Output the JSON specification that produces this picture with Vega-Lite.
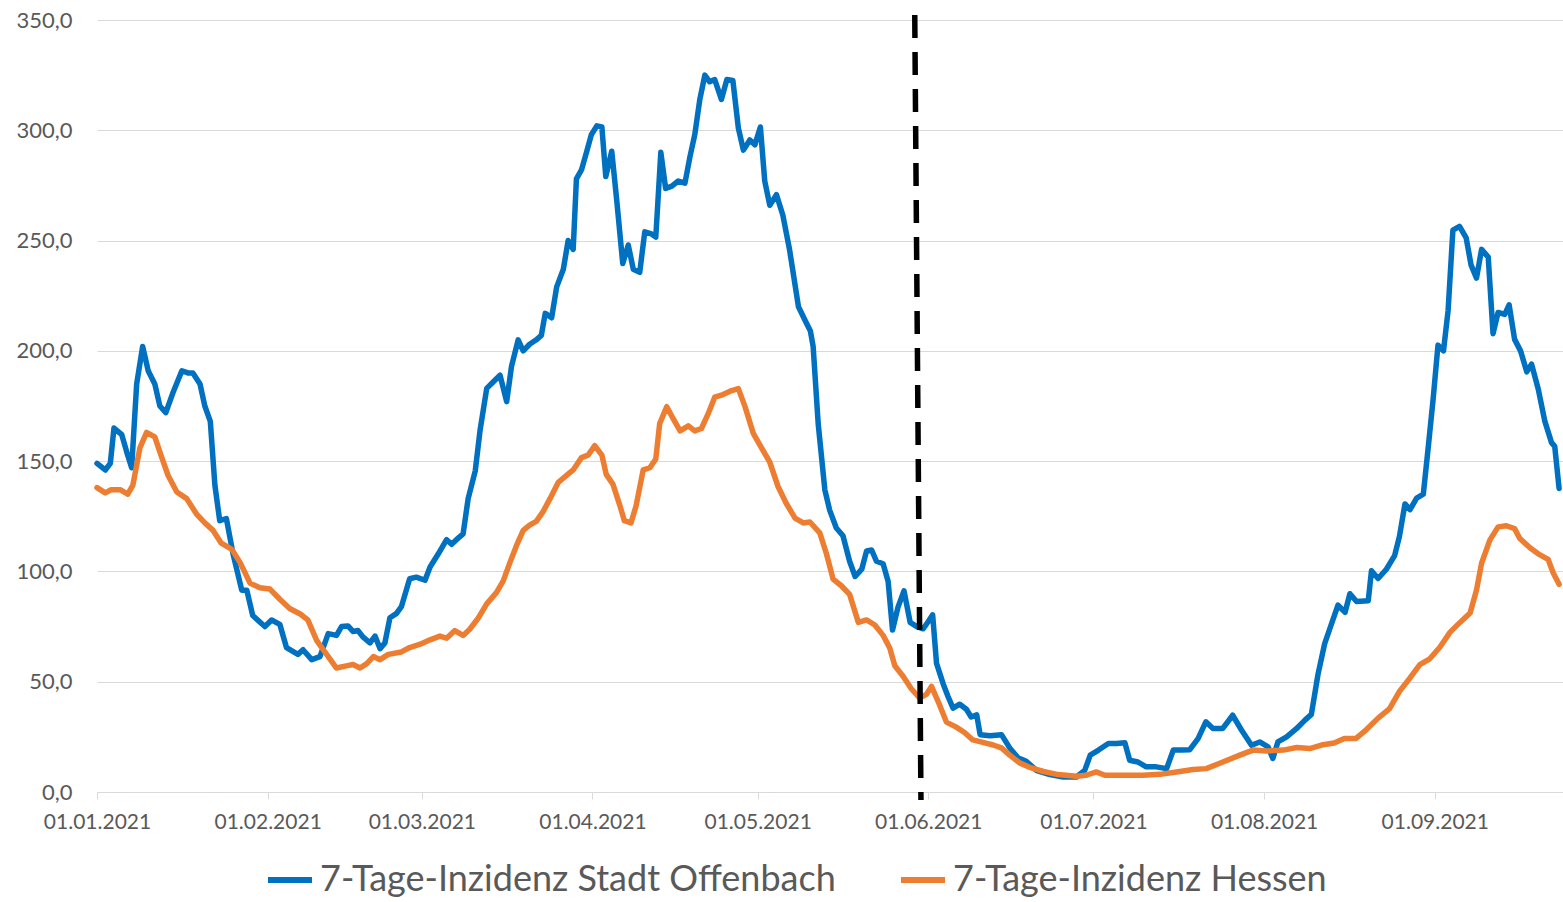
{
  "$schema": "https://vega.github.io/schema/vega-lite/v6.json",
  "width": 1466,
  "height": 772,
  "autosize": {"type": "none"},
  "padding": {"left": 97, "top": 20, "right": 0, "bottom": 110},
  "background": "white",
  "config": {
    "view": {"stroke": null},
    "font": "Lato"
  },
  "datasets": {
    "offenbach": [
      {"date": "2021-01-01T00:00", "value": 149},
      {"date": "2021-01-02T12:00", "value": 146},
      {"date": "2021-01-03T10:00", "value": 149},
      {"date": "2021-01-04T02:00", "value": 165},
      {"date": "2021-01-05T12:00", "value": 162},
      {"date": "2021-01-06T10:00", "value": 154},
      {"date": "2021-01-07T07:00", "value": 147},
      {"date": "2021-01-08T05:00", "value": 185},
      {"date": "2021-01-09T07:00", "value": 202},
      {"date": "2021-01-10T07:00", "value": 191},
      {"date": "2021-01-11T12:00", "value": 185},
      {"date": "2021-01-12T10:00", "value": 175},
      {"date": "2021-01-13T12:00", "value": 172},
      {"date": "2021-01-14T19:00", "value": 181},
      {"date": "2021-01-16T10:00", "value": 191},
      {"date": "2021-01-17T12:00", "value": 190},
      {"date": "2021-01-18T10:00", "value": 190},
      {"date": "2021-01-19T17:00", "value": 185},
      {"date": "2021-01-20T14:00", "value": 175},
      {"date": "2021-01-21T14:00", "value": 168},
      {"date": "2021-01-22T10:00", "value": 139},
      {"date": "2021-01-23T07:00", "value": 123},
      {"date": "2021-01-24T12:00", "value": 124},
      {"date": "2021-01-25T17:00", "value": 108},
      {"date": "2021-01-27T07:00", "value": 91.5},
      {"date": "2021-01-28T05:00", "value": 91.5},
      {"date": "2021-01-29T07:00", "value": 80},
      {"date": "2021-01-31T12:00", "value": 75},
      {"date": "2021-02-01T17:00", "value": 78},
      {"date": "2021-02-03T05:00", "value": 76},
      {"date": "2021-02-04T10:00", "value": 65.5},
      {"date": "2021-02-06T12:00", "value": 62.4},
      {"date": "2021-02-07T10:00", "value": 64.5},
      {"date": "2021-02-09T00:00", "value": 60},
      {"date": "2021-02-10T12:00", "value": 61.4},
      {"date": "2021-02-12T00:00", "value": 71.8},
      {"date": "2021-02-13T12:00", "value": 71},
      {"date": "2021-02-14T10:00", "value": 75},
      {"date": "2021-02-15T14:00", "value": 75.3},
      {"date": "2021-02-16T12:00", "value": 72.8},
      {"date": "2021-02-17T10:00", "value": 73.2},
      {"date": "2021-02-18T07:00", "value": 70.3},
      {"date": "2021-02-19T14:00", "value": 67.6},
      {"date": "2021-02-20T12:00", "value": 70.7},
      {"date": "2021-02-21T10:00", "value": 65},
      {"date": "2021-02-22T07:00", "value": 67.6},
      {"date": "2021-02-23T05:00", "value": 79},
      {"date": "2021-02-24T10:00", "value": 81},
      {"date": "2021-02-25T07:00", "value": 84},
      {"date": "2021-02-26T19:00", "value": 96.7},
      {"date": "2021-02-28T00:00", "value": 97.4},
      {"date": "2021-03-01T14:00", "value": 96},
      {"date": "2021-03-02T12:00", "value": 102},
      {"date": "2021-03-04T00:00", "value": 108},
      {"date": "2021-03-05T12:00", "value": 114.4},
      {"date": "2021-03-06T10:00", "value": 112.3},
      {"date": "2021-03-07T07:00", "value": 114.4},
      {"date": "2021-03-08T12:00", "value": 117},
      {"date": "2021-03-09T10:00", "value": 133},
      {"date": "2021-03-10T17:00", "value": 145.6},
      {"date": "2021-03-11T14:00", "value": 164},
      {"date": "2021-03-12T19:00", "value": 183},
      {"date": "2021-03-14T00:00", "value": 186},
      {"date": "2021-03-15T05:00", "value": 189},
      {"date": "2021-03-16T10:00", "value": 177},
      {"date": "2021-03-17T07:00", "value": 193},
      {"date": "2021-03-18T12:00", "value": 205},
      {"date": "2021-03-19T10:00", "value": 200},
      {"date": "2021-03-20T14:00", "value": 203},
      {"date": "2021-03-21T19:00", "value": 205},
      {"date": "2021-03-22T17:00", "value": 207},
      {"date": "2021-03-23T10:00", "value": 217},
      {"date": "2021-03-24T14:00", "value": 215},
      {"date": "2021-03-25T12:00", "value": 229},
      {"date": "2021-03-26T17:00", "value": 237},
      {"date": "2021-03-27T14:00", "value": 250},
      {"date": "2021-03-28T12:00", "value": 246},
      {"date": "2021-03-29T02:00", "value": 278},
      {"date": "2021-03-30T00:00", "value": 282},
      {"date": "2021-03-30T22:00", "value": 290},
      {"date": "2021-03-31T19:00", "value": 298},
      {"date": "2021-04-01T19:00", "value": 302},
      {"date": "2021-04-02T17:00", "value": 301.5},
      {"date": "2021-04-03T10:00", "value": 279},
      {"date": "2021-04-04T12:00", "value": 290.5},
      {"date": "2021-04-05T10:00", "value": 268},
      {"date": "2021-04-06T12:00", "value": 239.6},
      {"date": "2021-04-07T12:00", "value": 248},
      {"date": "2021-04-08T10:00", "value": 237},
      {"date": "2021-04-09T14:00", "value": 235.6},
      {"date": "2021-04-10T12:00", "value": 254},
      {"date": "2021-04-11T17:00", "value": 253},
      {"date": "2021-04-12T12:00", "value": 251.6},
      {"date": "2021-04-13T10:00", "value": 290},
      {"date": "2021-04-14T07:00", "value": 273.6},
      {"date": "2021-04-15T10:00", "value": 274.7},
      {"date": "2021-04-16T14:00", "value": 277},
      {"date": "2021-04-17T19:00", "value": 276},
      {"date": "2021-04-18T17:00", "value": 288},
      {"date": "2021-04-19T14:00", "value": 298},
      {"date": "2021-04-20T12:00", "value": 314},
      {"date": "2021-04-21T10:00", "value": 325},
      {"date": "2021-04-22T07:00", "value": 322},
      {"date": "2021-04-23T05:00", "value": 323},
      {"date": "2021-04-24T10:00", "value": 314},
      {"date": "2021-04-25T10:00", "value": 323},
      {"date": "2021-04-26T12:00", "value": 322.6},
      {"date": "2021-04-27T12:00", "value": 301},
      {"date": "2021-04-28T10:00", "value": 291},
      {"date": "2021-04-29T14:00", "value": 295.6},
      {"date": "2021-04-30T12:00", "value": 293.4},
      {"date": "2021-05-01T12:00", "value": 301.5},
      {"date": "2021-05-02T07:00", "value": 277},
      {"date": "2021-05-03T05:00", "value": 266},
      {"date": "2021-05-04T10:00", "value": 270.8},
      {"date": "2021-05-05T14:00", "value": 261.5},
      {"date": "2021-05-06T19:00", "value": 246},
      {"date": "2021-05-08T10:00", "value": 220},
      {"date": "2021-05-09T14:00", "value": 214},
      {"date": "2021-05-10T14:00", "value": 209},
      {"date": "2021-05-11T02:00", "value": 202},
      {"date": "2021-05-12T00:00", "value": 167},
      {"date": "2021-05-13T05:00", "value": 137},
      {"date": "2021-05-14T02:00", "value": 127.8},
      {"date": "2021-05-15T07:00", "value": 119.7},
      {"date": "2021-05-16T12:00", "value": 116.2},
      {"date": "2021-05-17T17:00", "value": 104.6},
      {"date": "2021-05-18T17:00", "value": 97.7},
      {"date": "2021-05-19T22:00", "value": 101},
      {"date": "2021-05-20T19:00", "value": 109.3},
      {"date": "2021-05-21T17:00", "value": 109.7},
      {"date": "2021-05-22T14:00", "value": 104.6},
      {"date": "2021-05-23T19:00", "value": 103.5},
      {"date": "2021-05-24T17:00", "value": 95.4},
      {"date": "2021-05-25T12:00", "value": 73.4},
      {"date": "2021-05-26T12:00", "value": 83.8},
      {"date": "2021-05-27T14:00", "value": 91.2},
      {"date": "2021-05-28T17:00", "value": 76.9},
      {"date": "2021-05-29T22:00", "value": 75},
      {"date": "2021-05-31T02:00", "value": 74},
      {"date": "2021-06-01T00:00", "value": 77.3},
      {"date": "2021-06-01T19:00", "value": 80.3},
      {"date": "2021-06-02T12:00", "value": 58.3},
      {"date": "2021-06-03T17:00", "value": 49},
      {"date": "2021-06-04T14:00", "value": 43.3},
      {"date": "2021-06-05T12:00", "value": 38},
      {"date": "2021-06-06T17:00", "value": 39.8},
      {"date": "2021-06-07T22:00", "value": 37.5},
      {"date": "2021-06-08T19:00", "value": 34},
      {"date": "2021-06-09T19:00", "value": 35},
      {"date": "2021-06-10T10:00", "value": 26},
      {"date": "2021-06-12T05:00", "value": 25.5},
      {"date": "2021-06-14T07:00", "value": 26},
      {"date": "2021-06-15T19:00", "value": 20},
      {"date": "2021-06-17T07:00", "value": 15.5},
      {"date": "2021-06-18T19:00", "value": 13.9},
      {"date": "2021-06-20T17:00", "value": 9.7},
      {"date": "2021-06-23T02:00", "value": 7.9},
      {"date": "2021-06-25T12:00", "value": 6.8},
      {"date": "2021-06-27T22:00", "value": 6.8},
      {"date": "2021-06-29T10:00", "value": 9.8},
      {"date": "2021-06-30T10:00", "value": 16.7},
      {"date": "2021-07-01T22:00", "value": 19},
      {"date": "2021-07-03T17:00", "value": 22},
      {"date": "2021-07-05T05:00", "value": 22},
      {"date": "2021-07-06T17:00", "value": 22.3},
      {"date": "2021-07-07T14:00", "value": 14.4},
      {"date": "2021-07-09T02:00", "value": 13.6},
      {"date": "2021-07-10T14:00", "value": 11.4},
      {"date": "2021-07-12T10:00", "value": 11.4},
      {"date": "2021-07-14T07:00", "value": 10.6},
      {"date": "2021-07-15T12:00", "value": 19},
      {"date": "2021-07-17T00:00", "value": 19},
      {"date": "2021-07-18T12:00", "value": 19.2},
      {"date": "2021-07-20T00:00", "value": 24.2},
      {"date": "2021-07-21T10:00", "value": 31.8},
      {"date": "2021-07-22T17:00", "value": 28.8},
      {"date": "2021-07-24T12:00", "value": 28.8},
      {"date": "2021-07-26T07:00", "value": 34.8},
      {"date": "2021-07-27T22:00", "value": 28},
      {"date": "2021-07-29T17:00", "value": 21.2},
      {"date": "2021-07-31T05:00", "value": 22.7},
      {"date": "2021-08-01T17:00", "value": 20.5},
      {"date": "2021-08-02T14:00", "value": 15.2},
      {"date": "2021-08-03T12:00", "value": 22.7},
      {"date": "2021-08-05T02:00", "value": 25},
      {"date": "2021-08-06T22:00", "value": 28.8},
      {"date": "2021-08-08T10:00", "value": 32.6},
      {"date": "2021-08-09T14:00", "value": 35.2},
      {"date": "2021-08-10T19:00", "value": 53.4},
      {"date": "2021-08-12T00:00", "value": 67.3},
      {"date": "2021-08-13T05:00", "value": 76},
      {"date": "2021-08-14T10:00", "value": 84.7},
      {"date": "2021-08-15T17:00", "value": 81.5},
      {"date": "2021-08-16T14:00", "value": 89.9},
      {"date": "2021-08-17T19:00", "value": 86.4},
      {"date": "2021-08-19T22:00", "value": 86.7},
      {"date": "2021-08-20T12:00", "value": 100.3},
      {"date": "2021-08-21T17:00", "value": 96.8},
      {"date": "2021-08-23T05:00", "value": 101},
      {"date": "2021-08-24T17:00", "value": 107.2},
      {"date": "2021-08-25T14:00", "value": 115.9},
      {"date": "2021-08-26T14:00", "value": 130.6},
      {"date": "2021-08-27T12:00", "value": 128},
      {"date": "2021-08-28T17:00", "value": 133.2},
      {"date": "2021-08-29T22:00", "value": 135},
      {"date": "2021-08-30T19:00", "value": 155.8},
      {"date": "2021-08-31T17:00", "value": 178.3},
      {"date": "2021-09-01T14:00", "value": 202.6},
      {"date": "2021-09-02T14:00", "value": 200},
      {"date": "2021-09-03T10:00", "value": 218.2},
      {"date": "2021-09-04T07:00", "value": 254.7},
      {"date": "2021-09-05T12:00", "value": 256.4},
      {"date": "2021-09-06T17:00", "value": 251.2},
      {"date": "2021-09-07T14:00", "value": 239},
      {"date": "2021-09-08T14:00", "value": 233},
      {"date": "2021-09-09T12:00", "value": 246},
      {"date": "2021-09-10T17:00", "value": 242.5},
      {"date": "2021-09-11T14:00", "value": 207.8},
      {"date": "2021-09-12T12:00", "value": 217.4},
      {"date": "2021-09-13T17:00", "value": 216.5},
      {"date": "2021-09-14T12:00", "value": 220.9},
      {"date": "2021-09-15T12:00", "value": 205.2},
      {"date": "2021-09-16T14:00", "value": 200},
      {"date": "2021-09-17T17:00", "value": 190.5},
      {"date": "2021-09-18T14:00", "value": 194},
      {"date": "2021-09-19T19:00", "value": 182.7},
      {"date": "2021-09-21T00:00", "value": 168},
      {"date": "2021-09-22T05:00", "value": 158.4},
      {"date": "2021-09-22T19:00", "value": 156.7},
      {"date": "2021-09-23T14:00", "value": 137.6}
    ],
    "hessen": [
      {"date": "2021-01-01T00:00", "value": 138},
      {"date": "2021-01-02T12:00", "value": 135.6},
      {"date": "2021-01-03T12:00", "value": 137},
      {"date": "2021-01-05T07:00", "value": 137},
      {"date": "2021-01-06T14:00", "value": 135},
      {"date": "2021-01-07T12:00", "value": 139},
      {"date": "2021-01-08T19:00", "value": 156},
      {"date": "2021-01-10T00:00", "value": 163},
      {"date": "2021-01-11T12:00", "value": 161},
      {"date": "2021-01-12T17:00", "value": 152},
      {"date": "2021-01-13T22:00", "value": 143.5},
      {"date": "2021-01-15T12:00", "value": 136},
      {"date": "2021-01-17T07:00", "value": 133},
      {"date": "2021-01-19T02:00", "value": 126},
      {"date": "2021-01-20T14:00", "value": 122},
      {"date": "2021-01-22T02:00", "value": 118.6},
      {"date": "2021-01-23T14:00", "value": 112.8},
      {"date": "2021-01-25T12:00", "value": 110},
      {"date": "2021-01-27T00:00", "value": 104},
      {"date": "2021-01-28T19:00", "value": 94.7},
      {"date": "2021-01-30T14:00", "value": 92.6},
      {"date": "2021-02-01T10:00", "value": 92},
      {"date": "2021-02-03T05:00", "value": 87.4},
      {"date": "2021-02-05T00:00", "value": 83.2},
      {"date": "2021-02-06T22:00", "value": 80.7},
      {"date": "2021-02-08T07:00", "value": 78},
      {"date": "2021-02-09T22:00", "value": 68.6},
      {"date": "2021-02-11T17:00", "value": 62.4},
      {"date": "2021-02-13T12:00", "value": 56.2},
      {"date": "2021-02-15T07:00", "value": 57.2},
      {"date": "2021-02-16T12:00", "value": 57.8},
      {"date": "2021-02-17T19:00", "value": 56.2},
      {"date": "2021-02-19T00:00", "value": 58.2},
      {"date": "2021-02-20T05:00", "value": 61.4},
      {"date": "2021-02-21T10:00", "value": 60},
      {"date": "2021-02-22T22:00", "value": 62.4},
      {"date": "2021-02-25T07:00", "value": 63.5},
      {"date": "2021-02-26T19:00", "value": 65.5},
      {"date": "2021-02-28T17:00", "value": 67},
      {"date": "2021-03-02T12:00", "value": 69},
      {"date": "2021-03-04T07:00", "value": 70.7},
      {"date": "2021-03-05T12:00", "value": 69.7},
      {"date": "2021-03-07T00:00", "value": 73.2},
      {"date": "2021-03-08T12:00", "value": 71},
      {"date": "2021-03-09T17:00", "value": 73.8},
      {"date": "2021-03-11T07:00", "value": 79},
      {"date": "2021-03-12T19:00", "value": 85.3},
      {"date": "2021-03-14T14:00", "value": 90.5},
      {"date": "2021-03-15T19:00", "value": 95.7},
      {"date": "2021-03-17T00:00", "value": 104},
      {"date": "2021-03-18T07:00", "value": 112.3},
      {"date": "2021-03-19T10:00", "value": 118.6},
      {"date": "2021-03-20T14:00", "value": 121},
      {"date": "2021-03-21T19:00", "value": 122.7},
      {"date": "2021-03-23T00:00", "value": 127},
      {"date": "2021-03-24T07:00", "value": 133},
      {"date": "2021-03-25T19:00", "value": 140.4},
      {"date": "2021-03-27T07:00", "value": 143.5},
      {"date": "2021-03-28T12:00", "value": 146},
      {"date": "2021-03-30T00:00", "value": 151.6},
      {"date": "2021-03-31T05:00", "value": 152.7},
      {"date": "2021-04-01T10:00", "value": 157},
      {"date": "2021-04-02T17:00", "value": 152.7},
      {"date": "2021-04-03T12:00", "value": 144},
      {"date": "2021-04-04T17:00", "value": 139.6},
      {"date": "2021-04-06T00:00", "value": 129.7},
      {"date": "2021-04-06T19:00", "value": 123},
      {"date": "2021-04-08T00:00", "value": 122},
      {"date": "2021-04-08T22:00", "value": 129.7},
      {"date": "2021-04-10T05:00", "value": 146},
      {"date": "2021-04-11T10:00", "value": 147},
      {"date": "2021-04-12T12:00", "value": 151},
      {"date": "2021-04-13T05:00", "value": 167},
      {"date": "2021-04-14T12:00", "value": 174.7},
      {"date": "2021-04-15T17:00", "value": 169},
      {"date": "2021-04-16T22:00", "value": 163.7},
      {"date": "2021-04-18T10:00", "value": 166},
      {"date": "2021-04-19T14:00", "value": 163.7},
      {"date": "2021-04-20T19:00", "value": 164.8},
      {"date": "2021-04-22T00:00", "value": 171.4},
      {"date": "2021-04-23T05:00", "value": 179},
      {"date": "2021-04-24T17:00", "value": 180.2},
      {"date": "2021-04-26T07:00", "value": 182},
      {"date": "2021-04-27T12:00", "value": 182.9},
      {"date": "2021-04-28T17:00", "value": 174.7},
      {"date": "2021-04-30T05:00", "value": 162.6},
      {"date": "2021-05-01T17:00", "value": 156},
      {"date": "2021-05-03T05:00", "value": 149.5},
      {"date": "2021-05-04T17:00", "value": 138.5},
      {"date": "2021-05-06T05:00", "value": 130.8},
      {"date": "2021-05-07T19:00", "value": 124.2},
      {"date": "2021-05-09T07:00", "value": 122},
      {"date": "2021-05-10T12:00", "value": 122.4},
      {"date": "2021-05-12T07:00", "value": 117.5},
      {"date": "2021-05-13T12:00", "value": 108},
      {"date": "2021-05-14T17:00", "value": 96.5},
      {"date": "2021-05-16T05:00", "value": 93.5},
      {"date": "2021-05-17T17:00", "value": 89.6},
      {"date": "2021-05-19T07:00", "value": 76.9},
      {"date": "2021-05-20T19:00", "value": 78},
      {"date": "2021-05-22T07:00", "value": 75.7},
      {"date": "2021-05-23T19:00", "value": 71},
      {"date": "2021-05-25T00:00", "value": 65.3},
      {"date": "2021-05-25T22:00", "value": 57.2},
      {"date": "2021-05-27T10:00", "value": 52.5},
      {"date": "2021-05-28T22:00", "value": 46.8},
      {"date": "2021-05-30T10:00", "value": 42.6},
      {"date": "2021-05-31T17:00", "value": 44.4},
      {"date": "2021-06-01T14:00", "value": 47.9},
      {"date": "2021-06-02T19:00", "value": 41},
      {"date": "2021-06-04T07:00", "value": 31.7},
      {"date": "2021-06-06T02:00", "value": 29.4},
      {"date": "2021-06-07T14:00", "value": 27},
      {"date": "2021-06-09T02:00", "value": 23.6},
      {"date": "2021-06-10T22:00", "value": 22.5},
      {"date": "2021-06-12T19:00", "value": 21.3},
      {"date": "2021-06-14T07:00", "value": 20},
      {"date": "2021-06-15T19:00", "value": 16.7},
      {"date": "2021-06-17T14:00", "value": 13.2},
      {"date": "2021-06-19T17:00", "value": 10.9},
      {"date": "2021-06-21T22:00", "value": 9.3},
      {"date": "2021-06-24T14:00", "value": 7.9},
      {"date": "2021-06-27T22:00", "value": 7.1},
      {"date": "2021-06-29T17:00", "value": 7.6},
      {"date": "2021-07-01T12:00", "value": 9.1},
      {"date": "2021-07-03T02:00", "value": 7.6},
      {"date": "2021-07-06T10:00", "value": 7.6},
      {"date": "2021-07-10T00:00", "value": 7.6},
      {"date": "2021-07-13T02:00", "value": 8},
      {"date": "2021-07-16T02:00", "value": 9.1},
      {"date": "2021-07-19T02:00", "value": 10.2},
      {"date": "2021-07-21T12:00", "value": 10.6},
      {"date": "2021-07-24T12:00", "value": 13.6},
      {"date": "2021-07-27T14:00", "value": 16.7},
      {"date": "2021-07-30T00:00", "value": 19},
      {"date": "2021-08-01T10:00", "value": 18.6},
      {"date": "2021-08-04T12:00", "value": 19},
      {"date": "2021-08-06T22:00", "value": 20.2},
      {"date": "2021-08-09T07:00", "value": 19.7},
      {"date": "2021-08-11T10:00", "value": 21.3},
      {"date": "2021-08-13T17:00", "value": 22.2},
      {"date": "2021-08-15T14:00", "value": 24.3},
      {"date": "2021-08-17T17:00", "value": 24.3},
      {"date": "2021-08-19T14:00", "value": 28.3},
      {"date": "2021-08-21T17:00", "value": 33.5},
      {"date": "2021-08-23T19:00", "value": 37.8},
      {"date": "2021-08-25T14:00", "value": 45.6},
      {"date": "2021-08-27T12:00", "value": 51.7},
      {"date": "2021-08-29T07:00", "value": 57.8},
      {"date": "2021-08-31T02:00", "value": 60.4},
      {"date": "2021-09-01T22:00", "value": 65.6},
      {"date": "2021-09-03T19:00", "value": 72.5},
      {"date": "2021-09-05T14:00", "value": 76.9},
      {"date": "2021-09-07T10:00", "value": 81.2},
      {"date": "2021-09-08T14:00", "value": 91.6},
      {"date": "2021-09-09T12:00", "value": 103.7},
      {"date": "2021-09-11T00:00", "value": 114.2},
      {"date": "2021-09-12T12:00", "value": 120.2},
      {"date": "2021-09-14T00:00", "value": 120.7},
      {"date": "2021-09-15T12:00", "value": 119.4},
      {"date": "2021-09-16T10:00", "value": 115},
      {"date": "2021-09-18T07:00", "value": 110.7},
      {"date": "2021-09-19T19:00", "value": 108},
      {"date": "2021-09-21T14:00", "value": 105.5},
      {"date": "2021-09-22T12:00", "value": 99.4},
      {"date": "2021-09-23T14:00", "value": 94.2}
    ],
    "marker": [
      {"start": "2021-05-29T13:00", "end": "2021-05-30T16:00", "top": 352.3, "bottom": -3.6}
    ]
  },
  "layer": [
    {
      "data": {"name": "offenbach"},
      "mark": {"type": "line", "strokeWidth": 5.5, "strokeJoin": "round", "strokeCap": "round"},
      "encoding": {
        "x": {
          "field": "date", "type": "temporal",
          "scale": {"domain": [{"year": 2021, "month": 1, "date": 1}, {"year": 2021, "month": 9, "date": 24, "hours": 7}], "nice": false},
          "axis": {
            "title": null,
            "format": "%d.%m.%Y",
            "tickCount": {"interval": "month", "step": 1},
            "labelFont": "Lato", "labelFontSize": 21, "labelColor": "#595959",
            "labelPadding": 12, "labelOverlap": false, "labelFlush": false,
            "grid": false,
            "domainColor": "#d9d9d9", "domainWidth": 1,
            "tickColor": "#d9d9d9", "tickSize": 7, "tickWidth": 1
          }
        },
        "y": {
          "field": "value", "type": "quantitative",
          "scale": {"domain": [0, 350], "nice": false},
          "axis": {
            "title": null,
            "values": [0, 50, 100, 150, 200, 250, 300, 350],
            "format": ".1f",
            "labelExpr": "replace(datum.label, '.', ',')",
            "labelFont": "Lato", "labelFontSize": 22, "labelColor": "#595959",
            "labelPadding": 25,
            "domain": false, "ticks": false,
            "grid": true, "gridColor": "#d9d9d9", "gridWidth": 1
          }
        },
        "color": {
          "datum": "7-Tage-Inzidenz Stadt Offenbach",
          "type": "nominal",
          "scale": {"domain": ["7-Tage-Inzidenz Stadt Offenbach", "7-Tage-Inzidenz Hessen"], "range": ["#0070C0", "#ED7D31"]},
          "legend": {
            "title": null,
            "orient": "none",
            "direction": "horizontal",
            "legendX": 168,
            "legendY": 835,
            "padding": 0,
            "symbolType": "stroke",
            "symbolSize": 1936,
            "symbolStrokeWidth": 6,
            "labelFont": "Lato",
            "labelFontSize": 36,
            "labelColor": "#595959",
            "labelOffset": 5,
            "labelLimit": 800,
            "columnPadding": 53
          }
        }
      }
    },
    {
      "data": {"name": "hessen"},
      "mark": {"type": "line", "strokeWidth": 5.5, "strokeJoin": "round", "strokeCap": "round"},
      "encoding": {
        "x": {"field": "date", "type": "temporal"},
        "y": {"field": "value", "type": "quantitative"},
        "color": {"datum": "7-Tage-Inzidenz Hessen", "type": "nominal"}
      }
    },
    {
      "data": {"name": "marker"},
      "mark": {"type": "rule", "color": "black", "strokeWidth": 5.5, "strokeDash": [23, 14], "clip": false},
      "encoding": {
        "x": {"field": "start", "type": "temporal"},
        "x2": {"field": "end"},
        "y": {"field": "top", "type": "quantitative"},
        "y2": {"field": "bottom"}
      }
    }
  ]
}
